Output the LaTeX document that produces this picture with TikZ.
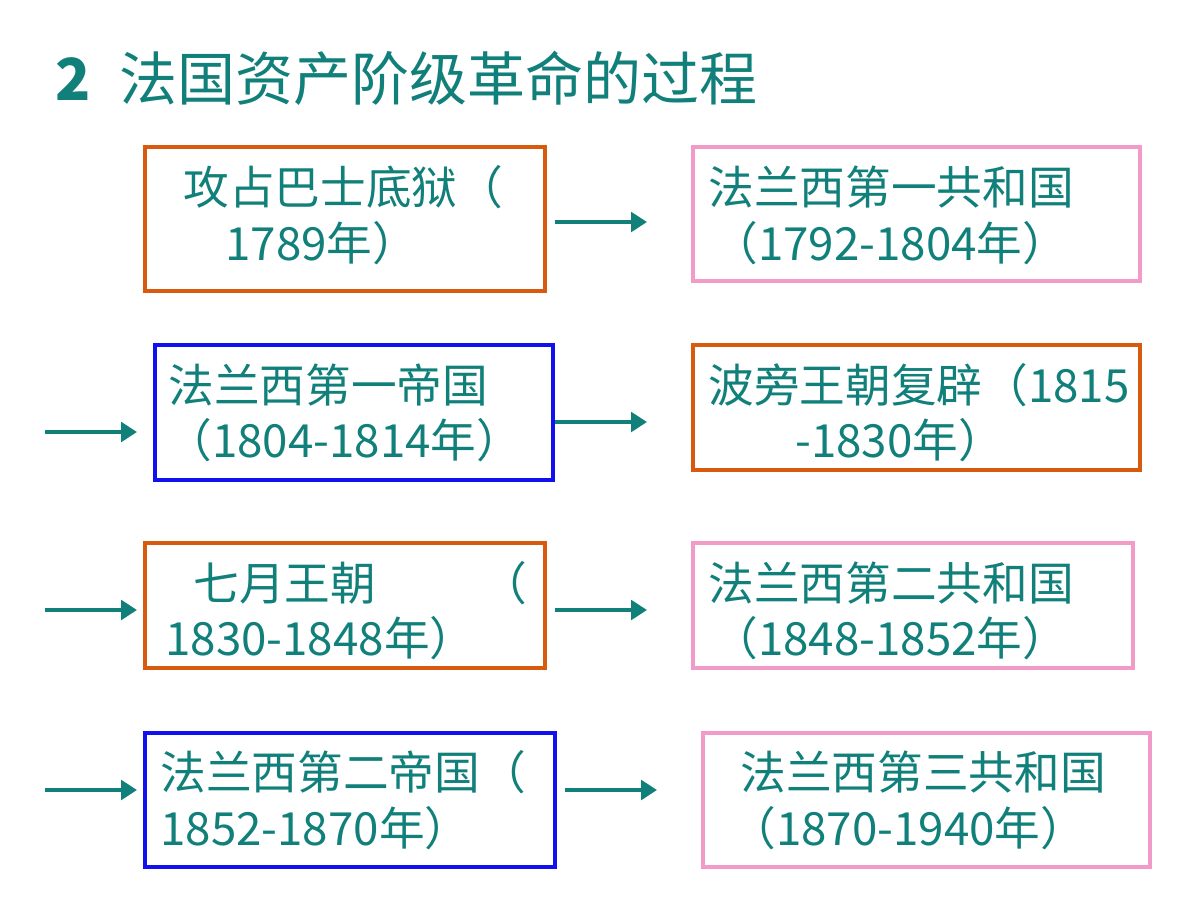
\documentclass[tikz,border=0pt]{standalone}
\usepackage{fontspec}
\newfontfamily\cjk{Noto Sans CJK SC}
\usetikzlibrary{arrows.meta}
\definecolor{tealtxt}{HTML}{11807A}
\definecolor{borange}{HTML}{D75A0E}
\definecolor{bpink}{HTML}{F29AC8}
\definecolor{bblue}{HTML}{1010F0}
\begin{document}
\begin{tikzpicture}[x=0.02cm,y=-0.02cm,
  box/.style={draw=#1,line width=2.8pt},
  txt/.style={anchor=west,inner sep=0pt,text=tealtxt,font=\cjk\fontsize{26}{30}\selectfont},
  arr/.style={draw=tealtxt,line width=2.6pt,-{Triangle[length=9pt,width=11pt]}}]
\useasboundingbox (0,0) rectangle (1200,900);
\node[anchor=west,inner sep=0pt,text=tealtxt,font=\cjk\fontsize{33}{36}\selectfont] (title) at (55,78) {\textbf{2}\hspace{0.5em}法国资产阶级革命的过程};
% boxes
\draw[box=borange] (145,147) rectangle (545,291);
\draw[box=bpink] (693,147) rectangle (1140,281);
\draw[box=bblue] (155,345) rectangle (553,480);
\draw[box=borange] (693,345) rectangle (1140,470);
\draw[box=borange] (145,543) rectangle (545,668);
\draw[box=bpink] (693,543) rectangle (1133,668);
\draw[box=bblue] (145,733) rectangle (555,867);
\draw[box=bpink] (703,733) rectangle (1150,867);
% texts
\node[txt] (a1) at (183,187) {攻占巴士底狱（};
\node[txt] (a2) at (225,243) {1789年）};
\node[txt] (b1) at (708,187) {法兰西第一共和国};
\node[txt] (b2) at (712,243) {（1792-1804年）};
\node[txt] (c1) at (168,385) {法兰西第一帝国};
\node[txt] (c2) at (166,440) {（1804-1814年）};
\node[txt] (d1) at (708,385) {波旁王朝复辟（1815};
\node[txt] (d2) at (795,440) {-1830年）};
\node[txt] (e1) at (193,583) {七月王朝\hspace{2.3em}（};
\node[txt] (e2) at (165,638) {1830-1848年）};
\node[txt] (f1) at (708,583) {法兰西第二共和国};
\node[txt] (f2) at (712,638) {（1848-1852年）};
\node[txt] (g1) at (160,772) {法兰西第二帝国（};
\node[txt] (g2) at (160,828) {1852-1870年）};
\node[txt] (h1) at (740,772) {法兰西第三共和国};
\node[txt] (h2) at (730,828) {（1870-1940年）};
% arrows
\coordinate (p1) at (555,222); \coordinate (q1) at (647,222);
\coordinate (p2) at (45,432);  \coordinate (q2) at (137,432);
\coordinate (p3) at (555,422); \coordinate (q3) at (647,422);
\coordinate (p4) at (45,610);  \coordinate (q4) at (137,610);
\coordinate (p5) at (555,610); \coordinate (q5) at (647,610);
\coordinate (p6) at (45,790);  \coordinate (q6) at (137,790);
\coordinate (p7) at (565,790); \coordinate (q7) at (657,790);
\foreach \i in {1,...,7} {\draw[arr] (p\i) -- (q\i);}
\end{tikzpicture}
\end{document}
